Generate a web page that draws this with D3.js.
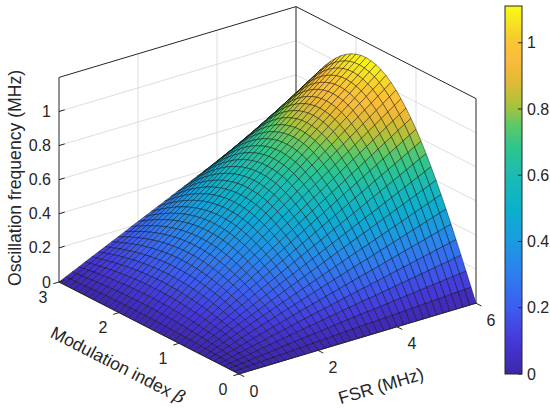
<!DOCTYPE html>
<html><head><meta charset="utf-8">
<script src="https://cdn.jsdelivr.net/npm/d3@7"></script>
<style>
body{margin:0;background:#fff;}
text{font-family:Arial,"Liberation Sans",Helvetica,sans-serif;fill:#262626;}
</style>
</head><body>
<svg id="chart" width="550" height="410"></svg>
<script>
// ---- data ----
const fsrValues = [0,0.167,0.333,0.5,0.667,0.833,1,1.167,1.333,1.5,1.667,1.833,2,2.167,2.333,2.5,2.667,2.833,3,3.167,3.333,3.5,3.667,3.833,4,4.167,4.333,4.5,4.667,4.833,5,5.167,5.333,5.5,5.667,5.833,6];
const betaValues = [0,0.083,0.167,0.25,0.333,0.417,0.5,0.583,0.667,0.75,0.833,0.917,1,1.083,1.167,1.25,1.333,1.417,1.5,1.583,1.667,1.75,1.833,1.917,2,2.083,2.167,2.25,2.333,2.417,2.5,2.583,2.667,2.75,2.833,2.917,3];
// oscillation frequency (MHz) along the FSR = 6 MHz edge, one value per beta mesh line
const oscAtFsr6 = [0,0.080,0.159,0.237,0.314,0.389,0.463,0.533,0.602,0.666,0.728,0.786,0.841,0.890,0.934,0.974,1.010,1.040,1.066,1.085,1.099,1.107,1.111,1.109,1.101,1.088,1.070,1.047,1.019,0.986,0.949,0.908,0.862,0.813,0.761,0.705,0.648];
const fsrTicks = [0,2,4,6];
const betaTicks = [0,1,2,3];
const freqTicks = [0,0.2,0.4,0.6,0.8,1];
const colorbarTicks = [0,0.2,0.4,0.6,0.8,1];

// ---- styling ----
const parulaStops = [
  [0.00,"#3e26a8"],[0.09,"#4638d8"],[0.18,"#3d5cf0"],[0.27,"#2e7eee"],
  [0.36,"#1a9be0"],[0.45,"#0cb0cc"],[0.545,"#1cbcb0"],[0.62,"#30c68a"],
  [0.68,"#62c864"],[0.727,"#a8c23c"],[0.80,"#e4ba35"],[0.86,"#fcbc3c"],
  [0.91,"#f6ca2e"],[1.00,"#f9fa14"]];

const svg = d3.select("#chart");

// table built from the arrays: surface is linear in FSR along each beta mesh line
const fsrMax = fsrValues[fsrValues.length-1];
const zGrid = fsrValues.map(f => oscAtFsr6.map(v => v * f / fsrMax));
const zMax = d3.max(oscAtFsr6);

// scales
const fScale = d3.scaleLinear().domain([0,6]).range([0,1]);
const bScale = d3.scaleLinear().domain([0,3]).range([0,1]);
const zScale = d3.scaleLinear().domain([0,1.2]).range([0,1]);
const O = [239,374], FV = [237,-70.8], BV = [-180,-92], ZV = [0,-204.6];
function proj(F,B,Z){
  const f=fScale(F), b=bScale(B), z=zScale(Z);
  return [O[0]+f*FV[0]+b*BV[0]+z*ZV[0], O[1]+f*FV[1]+b*BV[1]+z*ZV[1]];
}
// view direction (null vector of projection)
const nv = [FV[1]*0 - 0, 0, 0];
const n0 = BV[0]*ZV[1]-ZV[0]*BV[1];
const n1 = ZV[0]*FV[1]-FV[0]*ZV[1];
const n2 = FV[0]*BV[1]-BV[0]*FV[1];
function depth(F,B,Z){ return n0*fScale(F)+n1*bScale(B)+n2*zScale(Z); }

const colorScale = d3.scaleLinear()
  .domain(parulaStops.map(s=>s[0]*zMax))
  .range(parulaStops.map(s=>s[1]))
  .interpolate(d3.interpolateRgb).clamp(true);

const gridCol = "#d6d6d6", axisCol = "#262626";
const line = d3.line();

// ---- back walls grid ----
const gGrid = svg.append("g").attr("stroke",gridCol).attr("stroke-width",0.8).attr("fill","none");
freqTicks.filter(t=>t>0).forEach(t=>{
  gGrid.append("path").attr("d", line([proj(0,3,t),proj(6,3,t),proj(6,0,t)]));
});
fsrTicks.filter(t=>t>0&&t<6).forEach(t=>{
  gGrid.append("path").attr("d", line([proj(t,3,0),proj(t,3,1.2)]));
  gGrid.append("path").attr("d", line([proj(t,0,0),proj(t,3,0)]));
});
betaTicks.filter(t=>t>0&&t<3).forEach(t=>{
  gGrid.append("path").attr("d", line([proj(6,t,0),proj(6,t,1.2)]));
  gGrid.append("path").attr("d", line([proj(0,t,0),proj(6,t,0)]));
});

// ---- back box edges ----
const gBox = svg.append("g").attr("stroke",axisCol).attr("stroke-width",1).attr("fill","none");
gBox.append("path").attr("d", line([proj(0,3,0),proj(0,3,1.2),proj(6,3,1.2),proj(6,0,1.2),proj(6,0,0)]));
gBox.append("path").attr("d", line([proj(6,3,0),proj(6,3,1.2)]));
gBox.append("path").attr("d", line([proj(0,3,0),proj(6,3,0),proj(6,0,0)]));

// ---- surface ----
const quads = [];
for(let i=0;i<fsrValues.length-1;i++){
  for(let j=0;j<betaValues.length-1;j++){
    const c = [[i,j],[i+1,j],[i+1,j+1],[i,j+1]];
    const pts = c.map(([a,b])=>proj(fsrValues[a],betaValues[b],zGrid[a][b]));
    const zm = d3.mean(c,([a,b])=>zGrid[a][b]);
    const dep = d3.mean(c,([a,b])=>depth(fsrValues[a],betaValues[b],zGrid[a][b]));
    quads.push({pts, zm, dep});
  }
}
quads.sort((a,b)=>b.dep-a.dep);
svg.append("g").selectAll("path").data(quads).join("path")
  .attr("d", d=>line(d.pts)+"Z")
  .attr("fill", d=>colorScale(d.zm))
  .attr("stroke","#000").attr("stroke-width",0.5).attr("stroke-opacity",0.85)
  .attr("stroke-linejoin","round");

// ---- axes ----
const gAx = svg.append("g");
// FSR axis (front-right floor edge)
gAx.append("path").attr("d", line([proj(0,0,0),proj(6,0,0)])).attr("stroke",axisCol).attr("fill","none");
fsrTicks.forEach(t=>{
  const p = proj(t,0,0);
  gAx.append("line").attr("x1",p[0]).attr("y1",p[1]).attr("x2",p[0]+5.3).attr("y2",p[1]+2.7).attr("stroke",axisCol);
  gAx.append("text").attr("x",p[0]+15).attr("y",p[1]+17).attr("text-anchor","middle")
    .attr("dominant-baseline","central").attr("font-size",16).text(t);
});
// beta axis (front-left floor edge)
gAx.append("path").attr("d", line([proj(0,0,0),proj(0,3,0)])).attr("stroke",axisCol).attr("fill","none");
betaTicks.forEach(t=>{
  const p = proj(0,t,0);
  gAx.append("line").attr("x1",p[0]).attr("y1",p[1]).attr("x2",p[0]-5.7).attr("y2",p[1]+1.7).attr("stroke",axisCol);
  gAx.append("text").attr("x",p[0]-16).attr("y",p[1]+15).attr("text-anchor","middle")
    .attr("dominant-baseline","central").attr("font-size",16).text(t);
});
// z axis ticks on left vertical edge
freqTicks.forEach(t=>{
  const p = proj(0,3,t);
  gAx.append("line").attr("x1",p[0]).attr("y1",p[1]).attr("x2",p[0]+5.7).attr("y2",p[1]-1.7).attr("stroke",axisCol);
  gAx.append("text").attr("x",p[0]-8).attr("y",p[1]).attr("text-anchor","end")
    .attr("dominant-baseline","central").attr("font-size",16).text(t);
});

// axis titles
const angF = Math.atan2(FV[1],FV[0])*180/Math.PI;
const angB = Math.atan2(-BV[1],-BV[0])*180/Math.PI;
svg.append("text").attr("transform",`translate(381,386) rotate(${angF})`).attr("text-anchor","middle")
  .attr("dominant-baseline","central").attr("font-size",17.6).text("FSR (MHz)");
const bl = svg.append("text").attr("transform",`translate(118,365) rotate(${angB})`).attr("text-anchor","middle")
  .attr("dominant-baseline","central").attr("font-size",17.6);
bl.append("tspan").text("Modulation index ");
bl.append("tspan").attr("font-style","italic").attr("font-family","'DejaVu Serif',serif").text("β");
svg.append("text").attr("transform","translate(15,178) rotate(-90)").attr("text-anchor","middle")
  .attr("dominant-baseline","central").attr("font-size",17.6).text("Oscillation frequency (MHz)");

// ---- colorbar ----
const cbX = 505, cbW = 17;
const cbScale = d3.scaleLinear().domain([0,zMax]).range([374,6]);
const defs = svg.append("defs");
const grad = defs.append("linearGradient").attr("id","cbgrad").attr("x1",0).attr("y1",1).attr("x2",0).attr("y2",0);
parulaStops.forEach(s=>grad.append("stop").attr("offset",s[0]).attr("stop-color",s[1]));
svg.append("rect").attr("x",cbX).attr("y",cbScale(zMax)).attr("width",cbW)
  .attr("height",cbScale(0)-cbScale(zMax)).attr("fill","url(#cbgrad)")
  .attr("stroke",axisCol).attr("stroke-width",1);
colorbarTicks.forEach(t=>{
  const y = cbScale(t);
  svg.append("line").attr("x1",cbX+cbW-4).attr("x2",cbX+cbW).attr("y1",y).attr("y2",y).attr("stroke",axisCol);
  svg.append("text").attr("x",cbX+cbW+5).attr("y",y).attr("dominant-baseline","central")
    .attr("font-size",16).text(t);
});
</script>
</body></html>
